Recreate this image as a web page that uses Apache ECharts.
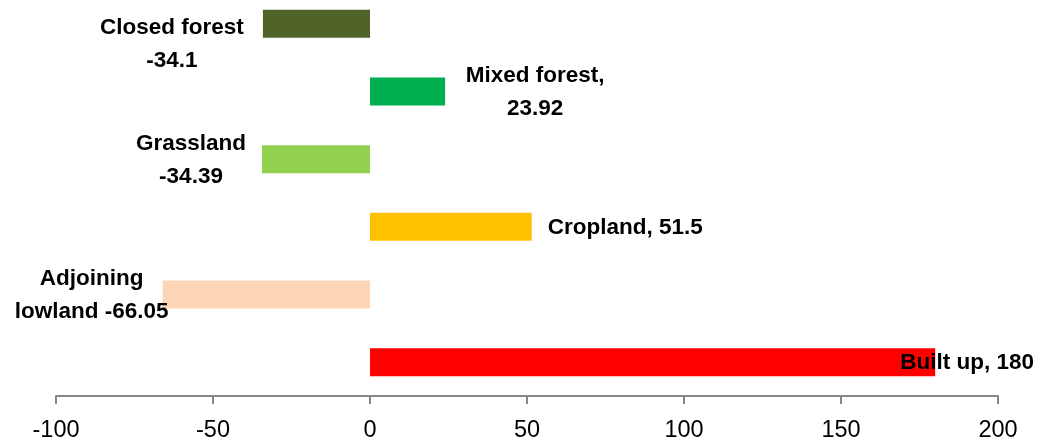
<!DOCTYPE html>
<html>
<head>
<meta charset="utf-8">
<script src="https://cdn.jsdelivr.net/npm/echarts@6/dist/echarts.min.js"></script>
<style>
  html, body { margin: 0; padding: 0; background: #fff; overflow: hidden; }
  /* pulled up 10px: the first bar sits higher than a grid top of 0 allows */
  #chart { width: 1044px; height: 453px; margin-top: -10px; }
</style>
</head>
<body>
<div id="chart"></div>
<script>
const categories = ['Closed forest', 'Mixed forest', 'Grassland', 'Cropland', 'Adjoining\nlowland', 'Built up']
const values = [-34.1, 23.92, -34.39, 51.5, -66.05, 180]
const separators = ['\n', ',\n', '\n', ', ', ' ', ', ']
const colors = ['#4f6228', '#00b050', '#92d050', '#ffc000', '#fbd5b5', '#ff0000']
const xTicks = { min: -100, max: 200, interval: 50 }

const labelStyle = {
  fontFamily: 'Liberation Sans',
  fontWeight: 'bold',
  fontSize: 22.5,
  lineHeight: 33,
  color: '#000'
}

// label placement per bar, as Excel put them
const labelPlace = [
  { position: 'left', distance: 0, align: 'center', offset: [-91, 20] },
  { position: 'right', distance: 0, align: 'center', offset: [90, 1] },
  { position: 'left', distance: 0, align: 'center', offset: [-71, 1] },
  { position: 'right', distance: 16, align: 'left', offset: [0, 1] },
  { position: 'left', distance: 0, align: 'center', offset: [-71, 1] },
  { position: 'right', distance: 0, align: 'left', offset: [-35, 1] }
]

const seriesData = values.map((v, i) => ({
  value: v,
  itemStyle: { color: colors[i] },
  label: {
    show: true,
    ...labelStyle,
    ...labelPlace[i],
    formatter: categories[i] + separators[i] + v
  }
}))

const chart = echarts.init(document.getElementById('chart'), null, { renderer: 'canvas' })
chart.setOption({
  animation: false,
  grid: { left: 56, right: 46, top: 0, bottom: 47, containLabel: false },
  xAxis: {
    type: 'value',
    ...xTicks,
    splitLine: { show: false },
    axisLine: { show: true, lineStyle: { color: '#868686', width: 2 } },
    axisTick: { show: true, length: 8, lineStyle: { color: '#868686', width: 2 } },
    axisLabel: {
      fontFamily: 'Liberation Sans',
      fontSize: 23.5,
      color: '#000',
      margin: 23
    }
  },
  yAxis: {
    type: 'category',
    data: categories,
    inverse: true,
    show: false
  },
  series: [{
    type: 'bar',
    data: seriesData,
    barWidth: 28
  }]
})
</script>
</body>
</html>
